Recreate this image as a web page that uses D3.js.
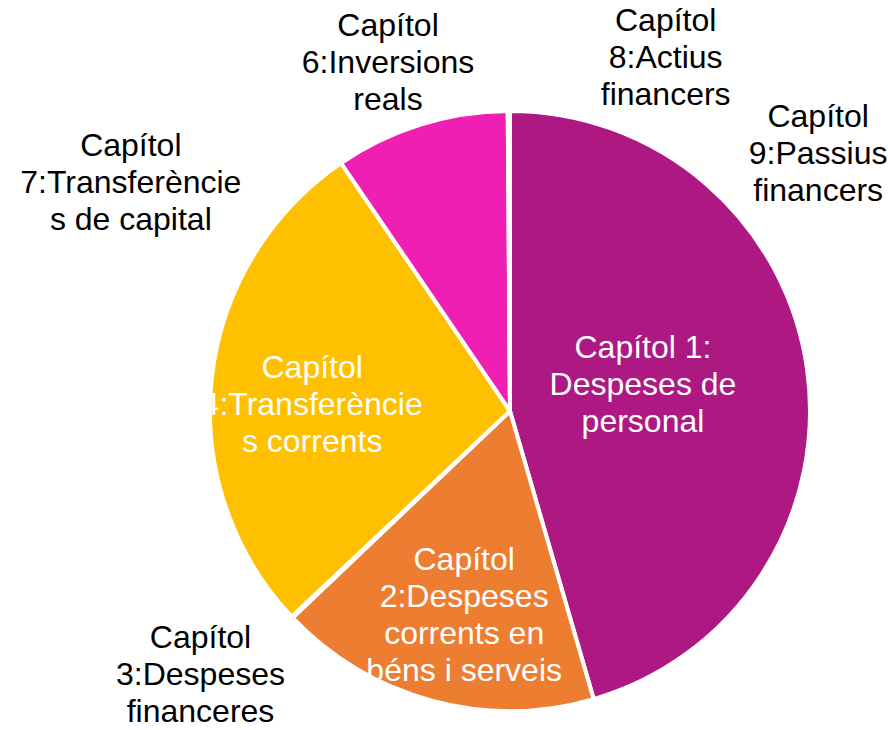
<!DOCTYPE html>
<html>
<head>
<meta charset="utf-8">
<script src="https://cdn.jsdelivr.net/npm/d3@7"></script>
<style>
  html, body { margin: 0; padding: 0; background: #fff; }
  svg text { font-family: "Liberation Sans", Arial, sans-serif; }
</style>
</head>
<body>
<script>
// chapters of the budget (Capítol 5 is not in the chart)
var chapters = ['Capítol 1', 'Capítol 2', 'Capítol 3', 'Capítol 4', 'Capítol 6', 'Capítol 7', 'Capítol 8', 'Capítol 9'];

// share of the total (%)
var shares = [45.5, 17.4, 0.08, 27.5, 9.4, 0.05, 0.04, 0.03];

// label text, broken the way the picture breaks it
var labelLines = [
    ['Capítol 1:', 'Despeses de', 'personal'],
    ['Capítol', '2:Despeses', 'corrents en', 'béns i serveis'],
    ['Capítol', '3:Despeses', 'financeres'],
    ['Capítol', '4:Transferèncie', 's corrents'],
    ['Capítol', '6:Inversions', 'reals'],
    ['Capítol', '7:Transferèncie', 's de capital'],
    ['Capítol', '8:Actius', 'financers'],
    ['Capítol', '9:Passius', 'financers']
];

var colors = ['#ae1883', '#ed7d31', '#a5a5a5', '#ffc000', '#ef1fb4', '#5b9bd5', '#70ad47', '#264478'];

// label placement: [angle shift from slice middle in degrees, radius as part of R, inside?]
var labelLayout = [
    [-3.8, 0.453, true],
    [-2.4, 0.694, true],
    [3.1, 1.353, false],
    [-4, 0.66, true],
    [-1.9, 1.233, false],
    [-58.5, 1.477, false],
    [23.9, 1.29, false],
    [50.1, 1.34, false]
];

var config = {
    width: 888,
    height: 730,
    cx: 510,
    cy: 411,
    radius: 300,
    fontSize: 32,
    lineHeight: 37
};

var data = chapters.map(function(c, i) {
    return {name: c, value: shares[i], lines: labelLines[i], color: colors[i], layout: labelLayout[i]};
});

var svg = d3.select('body').append('svg')
    .attr('width', config.width)
    .attr('height', config.height);

var pie = d3.pie()
    .sort(null)
    .value(function(d) { return d.value; });

var arc = d3.arc()
    .innerRadius(0)
    .outerRadius(config.radius);

var arcs = pie(data);

var g = svg.append('g')
    .attr('transform', 'translate(' + config.cx + ',' + config.cy + ')');

g.selectAll('path')
    .data(arcs)
    .enter()
    .append('path')
    .attr('d', arc)
    .attr('fill', function(d) { return d.data.color; })
    .attr('stroke', '#fff')
    .attr('stroke-width', 4)
    .attr('stroke-linejoin', 'round');

var labels = g.selectAll('text.label')
    .data(arcs)
    .enter()
    .append('text')
    .attr('class', 'label')
    .attr('text-anchor', 'middle')
    .attr('font-size', config.fontSize)
    .attr('fill', function(d) { return d.data.layout[2] ? '#fff' : '#000'; })
    .each(function(d) {
        var mid = (d.startAngle + d.endAngle) / 2 + d.data.layout[0] * Math.PI / 180;
        var r = d.data.layout[1] * config.radius;
        var x = Math.sin(mid) * r;
        var y = -Math.cos(mid) * r;
        var n = d.data.lines.length;
        d3.select(this).selectAll('tspan')
            .data(d.data.lines)
            .enter()
            .append('tspan')
            .attr('x', x)
            .attr('y', function(t, i) { return y + (i - (n - 1) / 2) * config.lineHeight; })
            .attr('dy', '0.36em')
            .text(function(t) { return t; });
    });
</script>
</body>
</html>
